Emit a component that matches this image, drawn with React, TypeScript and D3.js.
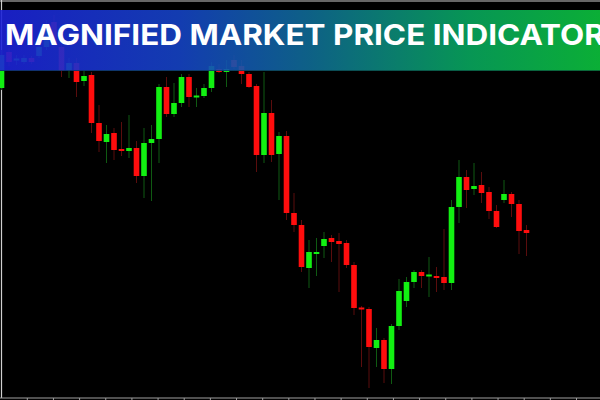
import React from "react";
import * as d3 from "d3";

// Candle data (price in points)
const opens = [312,348,340,338,342,344,353,378,353,330,337,319,325,277,258,267,251,249,252,224,257,261,313,286,297,323,303,304,312,331,328,340,334,326,314,245,287,246,264,187,175,132,146,154,162,159,157,135,92,91,52,60,31,74,99,118,128,124,124,123,117,193,223,211,215,208,189,200,206,196,170];
const highs = [350,352,345,345,344,360,380,385,357,342,342,330,328,295,275,272,278,285,259,272,275,316,323,317,326,326,312,316,338,336,340,345,340,328,316,328,300,268,269,207,180,160,162,168,165,167,160,138,94,93,72,62,76,121,123,130,130,143,133,171,200,240,230,237,228,213,195,220,208,200,175];
const lows = [310,334,335,336,336,342,350,352,323,322,303,314,267,248,237,240,244,242,217,202,199,237,283,283,293,293,293,302,308,327,313,331,316,312,228,237,238,200,180,168,128,112,124,142,138,108,132,85,33,12,33,17,16,70,93,112,112,103,108,110,110,177,192,205,197,181,172,197,183,146,144];
const closes = [345,338,341,342,338,353,372,355,329,337,318,324,277,259,266,250,249,252,224,257,261,313,286,297,323,303,304,312,334,328,331,333,326,313,245,287,245,264,187,175,133,148,148,161,158,156,135,92,91,53,60,31,74,109,118,128,124,125,122,117,193,223,210,214,207,189,173,206,196,169,167];

const titleText = "MAGNIFIED MARKET PRICE INDICATOR";
const tickCount = 23;

const W = 600;
const H = 400;

export default function App() {
  const x = d3.scaleLinear().domain([0, 80]).range([1.5, 601.5]);
  const y = d3.scaleLinear().domain([0, 400]).range([400, 0]);
  const bw = 5.6;
  const tickX = d3.scaleLinear().domain([0, 1]).range([x(3.44), x(3.44 + 3.487)]);
  const ticks = d3.range(tickCount).map((k) => tickX(k));

  const candles = opens.map((o, i) => ({
    i,
    o,
    h: highs[i],
    l: lows[i],
    c: closes[i],
    up: closes[i] >= o,
  }));

  return (
    <svg
      width={W}
      height={H}
      style={{ position: "absolute", left: 0, top: 0, background: "#000" }}
    >
      <defs>
        <linearGradient id="banner" x1="0" x2="1" y1="0" y2="0">
          <stop offset="0%" stopColor="#1c22d8" />
          <stop offset="30%" stopColor="#1543c4" />
          <stop offset="52%" stopColor="#0f6c94" />
          <stop offset="78%" stopColor="#08a65e" />
          <stop offset="100%" stopColor="#0cc23c" />
        </linearGradient>
      </defs>
      <rect x={0} y={0} width={W} height={H} fill="#000" />
      {/* frame */}
      <line x1={0} x2={W} y1={1} y2={1} stroke="#8a8a8a" strokeWidth={1.5} />
      <line x1={1.5} x2={1.5} y1={0} y2={398} stroke="#d0d0d0" strokeWidth={1.2} />
      <line x1={0} x2={W} y1={398} y2={398} stroke="#a0a0a0" strokeWidth={1.2} />
      {ticks.map((t, k) => (
        <line key={k} x1={t} x2={t} y1={398} y2={400} stroke="#a0a0a0" strokeWidth={1} />
      ))}
      {/* candles */}
      {candles.map((d) => {
        const cx = x(d.i);
        const top = y(Math.max(d.o, d.c));
        const bot = y(Math.min(d.o, d.c));
        const bh = Math.max(2, bot - top);
        return (
          <g key={d.i}>
            <line
              x1={cx}
              x2={cx}
              y1={y(d.h)}
              y2={y(d.l)}
              stroke={d.up ? "#0f5a12" : "#5a0d0d"}
              strokeWidth={1}
            />
            <rect
              x={cx - bw / 2}
              y={bh === 2 && bot - top < 2 ? (top + bot) / 2 - 1 : top}
              width={bw}
              height={bh}
              fill={d.up ? "#12f012" : "#ff0d0d"}
            />
          </g>
        );
      })}
      {/* banner */}
      <rect x={0} y={10} width={W} height={61} fill="url(#banner)" opacity={0.9} />
      <line x1={0} x2={W} y1={70.5} y2={70.5} stroke="#0b3a3a" strokeWidth={1} opacity={0.6} />
      <text
        x={5}
        y={45}
        fill="#ffffff"
        fontFamily="Inter, Lato, 'Open Sans', sans-serif"
        fontWeight={700}
        fontSize={29}
        textLength={600}
        lengthAdjust="spacingAndGlyphs"
      >
        {titleText}
      </text>
    </svg>
  );
}
